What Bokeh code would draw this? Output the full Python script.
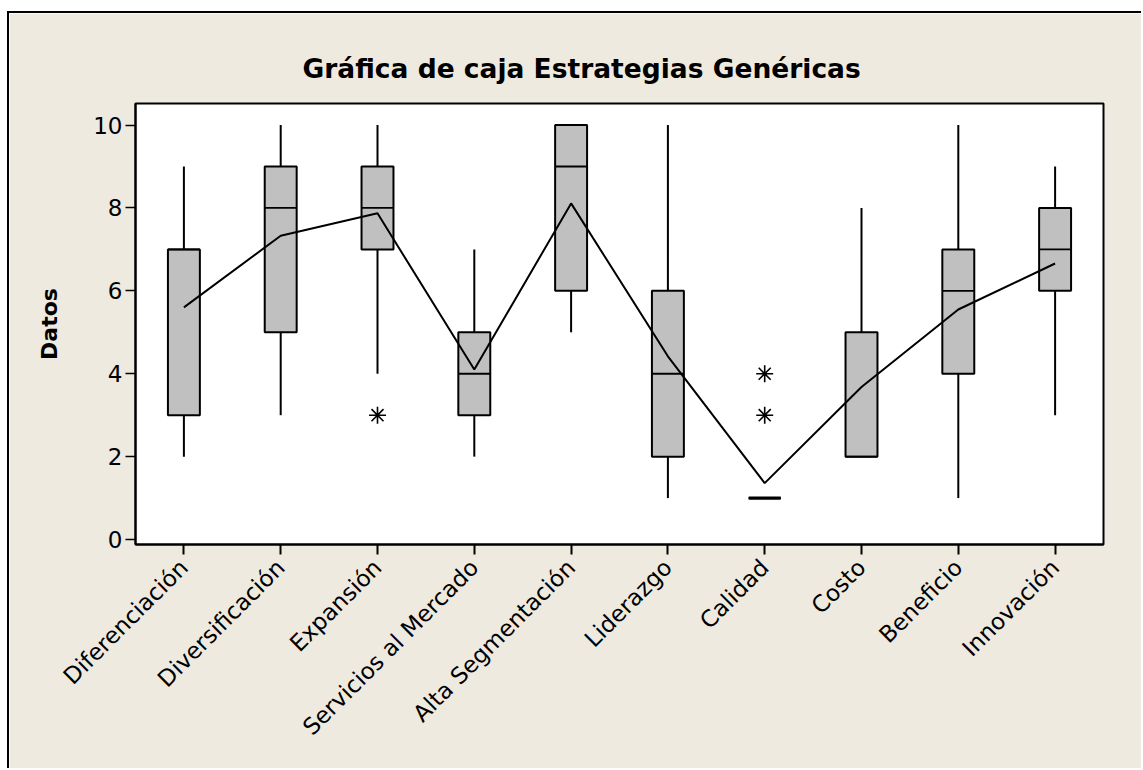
import math
from bokeh.plotting import figure
from bokeh.models import FixedTicker, ColumnDataSource, Title
from bokeh.embed import file_html
from bokeh.resources import INLINE

categories = ["Diferenciación", "Diversificación", "Expansión", "Servicios al Mercado",
              "Alta Segmentación", "Liderazgo", "Calidad", "Costo", "Beneficio", "Innovación"]
q1 = [3, 5, 7, 3, 6, 2, 1, 2, 4, 6]
median = [7, 8, 8, 4, 9, 4, 1, 2, 6, 7]
q3 = [7, 9, 9, 5, 10, 6, 1, 5, 7, 8]
whisker_low = [2, 3, 4, 2, 5, 1, 1, 2, 1, 3]
whisker_high = [9, 10, 10, 7, 10, 10, 1, 8, 10, 9]
means = [5.6, 7.33, 7.87, 4.1, 8.11, 4.42, 1.36, 3.68, 5.55, 6.66]
outlier_cat = [3, 7, 7]
outlier_val = [3, 3, 4]
y_ticks = [0, 2, 4, 6, 8, 10]

BG = "#EEEAE0"
BOX = "#C0C0C0"
FONT = "DejaVu Sans"

xs = list(range(1, len(categories) + 1))
src = ColumnDataSource(dict(x=xs, q1=q1, q3=q3, med=median, lo=whisker_low, hi=whisker_high,
                            mean=means))
bw = 0.33

p = figure(width=1134, height=757, x_range=(0.5, 10.5), y_range=(-0.12, 10.52),
           output_backend="svg", toolbar_location=None,
           min_border_left=126, min_border_top=90, min_border_right=40, min_border_bottom=226)
p.background_fill_color = "white"
p.border_fill_color = BG
p.outline_line_color = "black"
p.outline_line_width = 2
p.xgrid.visible = False
p.ygrid.visible = False

t = Title(text="Gráfica de caja Estrategias Genéricas", align="left", offset=167,
          text_font=FONT, text_font_size="26.5px", text_font_style="bold", text_color="black",
          standoff=40)
p.add_layout(t, "above")

# whiskers
p.segment(x0="x", y0="lo", x1="x", y1="q1", source=src, line_color="black", line_width=2)
p.segment(x0="x", y0="q3", x1="x", y1="hi", source=src, line_color="black", line_width=2)
# boxes
p.vbar(x="x", width=bw, bottom="q1", top="q3", source=src, fill_color=BOX,
       line_color="black", line_width=2)
# medians
p.segment(x0=[x - bw / 2 for x in xs], y0=median, x1=[x + bw / 2 for x in xs], y1=median,
          line_color="black", line_width=1.8)
# degenerate box (all values equal) drawn as a thick bar
p.segment(x0=[x - bw / 2 for x, a, b in zip(xs, q1, q3) if a == b],
          y0=[a for a, b in zip(q1, q3) if a == b],
          x1=[x + bw / 2 for x, a, b in zip(xs, q1, q3) if a == b],
          y1=[a for a, b in zip(q1, q3) if a == b], line_color="black", line_width=3.2)
# mean connect line
p.line(x="x", y="mean", source=src, line_color="black", line_width=2)
# outliers
p.scatter(outlier_cat, outlier_val, marker="asterisk", size=17, line_color="black", line_width=1.6)

# axes
xa = p.xaxis[0]
xa.ticker = FixedTicker(ticks=xs)
xa.major_label_overrides = {i + 1: c for i, c in enumerate(categories)}
xa.major_label_orientation = math.pi / 4
xa.major_label_text_font = FONT
xa.major_label_text_font_size = "23px"
xa.major_label_text_color = "black"
xa.major_tick_in = 0
xa.major_tick_out = 10
xa.major_tick_line_width = 2
xa.minor_tick_line_color = None
xa.axis_line_width = 2
xa.major_label_standoff = 9

ya = p.yaxis[0]
ya.ticker = FixedTicker(ticks=y_ticks)
ya.major_label_text_font = FONT
ya.major_label_text_font_size = "23px"
ya.major_label_text_color = "black"
ya.major_tick_in = 0
ya.major_tick_out = 10
ya.major_tick_line_width = 1.5
ya.minor_tick_line_color = None
ya.axis_line_width = 2
ya.major_label_standoff = 3
ya.axis_label = "Datos"
ya.axis_label_text_font = FONT
ya.axis_label_text_font_size = "22px"
ya.axis_label_text_font_style = "bold"
ya.axis_label_text_color = "black"
ya.axis_label_standoff = 28

p.styles = {"border-left": "2px solid black", "border-top": "2px solid black"}
p.margin = (11, 0, 0, 7)

open("out.html", "w").write(file_html(p, INLINE))
